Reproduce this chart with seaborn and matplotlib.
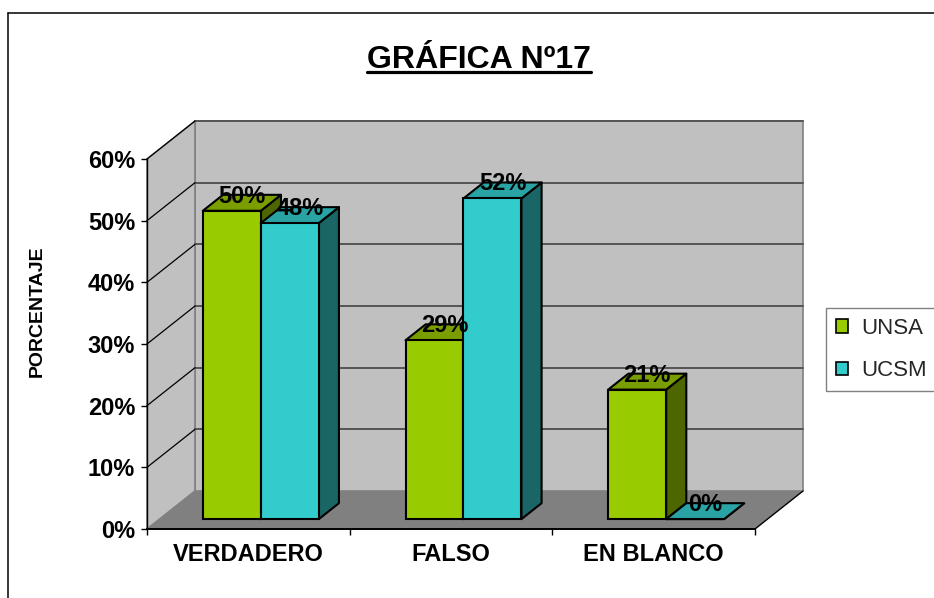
import matplotlib
matplotlib.use("Agg")
import matplotlib.pyplot as plt
import pandas as pd
import seaborn as sns
from matplotlib.patches import Polygon, Patch, Rectangle
from matplotlib.lines import Line2D
from matplotlib.transforms import Affine2D

# ---- data -------------------------------------------------------------
categorias = ["VERDADERO", "FALSO", "EN BLANCO"]
series = ["UNSA", "UCSM"]
unsa = [50, 29, 21]
ucsm = [48, 52, 0]
yticks = [0, 10, 20, 30, 40, 50, 60]
ytick_labels = ["0%", "10%", "20%", "30%", "40%", "50%", "60%"]
titulo = "GRÁFICA Nº17"
eje_y = "PORCENTAJE"

# face colours of the 3-D columns: front, top, side
frente = ["#99cc00", "#33cccc"]
techo = ["#7a9e00", "#29a3a3"]
lado = ["#4d6600", "#1a6666"]

sns.set_theme(style="white")
plt.rcParams["font.family"] = ["Liberation Sans", "DejaVu Sans"]

df = pd.DataFrame({
    "categoria": categorias * 2,
    "universidad": [series[0]] * len(categorias) + [series[1]] * len(categorias),
    "porcentaje": unsa + ucsm,
})

# ---- figure & front plane of the box ------------------------------------
W, H = 934, 598
fig = plt.figure(figsize=(W / 100, H / 100), dpi=100)
left_px, right_px, bottom_px, top_px = 147, 755, 529, 159
ax = fig.add_axes([left_px / W, 1 - bottom_px / H,
                   (right_px - left_px) / W, (bottom_px - top_px) / H])
ax.patch.set_visible(False)

XL, XR = -0.5, len(categorias) - 0.5
YMAX = yticks[-1]
# depth of the box (pixels) converted into data units
DX = 48 / (right_px - left_px) * (XR - XL)
DY = 38 / (bottom_px - top_px) * YMAX
D0, D1 = 0.26, 0.68          # depth span occupied by the columns


def P(x, y, d):
    """Project a point of the 3-D box onto the axes' data plane."""
    return (x + d * DX, y + d * DY)


# ---- columns -------------------------------------------------------------
sns.barplot(data=df, x="categoria", y="porcentaje", hue="universidad",
            order=categorias, hue_order=series, palette=frente,
            saturation=1, width=0.572, edgecolor="black", linewidth=1.5,
            legend=False, ax=ax)
barras = [p for p in ax.patches if isinstance(p, Rectangle)]

# ---- walls and floor -----------------------------------------------------
ax.add_patch(Polygon([P(XL, 0, 1), P(XR, 0, 1), P(XR, YMAX, 1), P(XL, YMAX, 1)],
                     closed=True, fc="#c0c0c0", ec="#808080", lw=1.2,
                     clip_on=False, zorder=0.1))
ax.add_patch(Polygon([P(XL, 0, 0), P(XL, YMAX, 0), P(XL, YMAX, 1), P(XL, 0, 1)],
                     closed=True, fc="#c0c0c0", ec="#808080", lw=1.2,
                     clip_on=False, zorder=0.1))
ax.add_patch(Polygon([P(XL, 0, 0), P(XR, 0, 0), P(XR, 0, 1), P(XL, 0, 1)],
                     closed=True, fc="#808080", ec="none",
                     clip_on=False, zorder=0.2))
ax.add_line(Line2D(*zip(P(XR, 0, 0), P(XR, 0, 1)), color="black", lw=1,
                   clip_on=False, zorder=0.3))
for v in yticks[1:]:
    ax.add_line(Line2D(*zip(P(XL, v, 1), P(XR, v, 1)), color="#555555",
                       lw=1.4, clip_on=False, zorder=0.5))
    ax.add_line(Line2D(*zip(P(XL, v, 0), P(XL, v, 1)), color="black",
                       lw=0.9, clip_on=False, zorder=0.5))

shift = Affine2D().translate(D0 * DX, D0 * DY)
for p in barras:
    x0, w, h = p.get_x(), p.get_width(), p.get_height()
    cx = x0 + w / 2
    s = 0 if cx < round(cx) else 1
    base = 2 + s
    p.set_transform(shift + ax.transData)
    p.set_zorder(base + 0.5)
    p.set_clip_on(False)
    ax.add_patch(Polygon([P(x0 + w, 0, D0), P(x0 + w, h, D0),
                          P(x0 + w, h, D1), P(x0 + w, 0, D1)],
                         closed=True, fc=lado[s], ec="black", lw=1.5,
                         joinstyle="round", clip_on=False, zorder=base))
    ax.add_patch(Polygon([P(x0, h, D0), P(x0 + w, h, D0),
                          P(x0 + w, h, D1), P(x0, h, D1)],
                         closed=True, fc=techo[s], ec="black", lw=1.5,
                         joinstyle="round", clip_on=False, zorder=base))
    ax.text(*P(cx, h, (D0 + D1) / 2), f"{h:.0f}%", ha="center",
            va="baseline", fontsize=17, fontweight="bold", color="black",
            zorder=10)

# ---- axes ----------------------------------------------------------------
ax.set_xlim(XL, XR)
ax.set_ylim(0, YMAX)
ax.set_xlabel("")
ax.set_ylabel("")
ax.set_yticks(yticks)
ax.set_yticklabels(ytick_labels, fontsize=17, fontweight="bold")
ax.tick_params(axis="y", left=True, length=4.3, width=1, color="black",
               pad=4.3, direction="out", labelcolor="black")
ax.set_xticks([XL + i for i in range(len(categorias) + 1)])
ax.set_xticklabels([])
ax.set_xticks(range(len(categorias)), minor=True)
ax.set_xticklabels(categorias, minor=True, fontsize=17, fontweight="bold")
ax.tick_params(axis="x", which="major", bottom=True, length=4, width=1,
               color="black", direction="out")
ax.tick_params(axis="x", which="minor", bottom=True, length=0, pad=10,
               labelcolor="black")
for side in ("top", "right"):
    ax.spines[side].set_visible(False)
ax.spines["left"].set_color("black")
ax.spines["left"].set_linewidth(1)
ax.spines["bottom"].set_color("black")
ax.spines["bottom"].set_linewidth(1.4)
ax.grid(False)

# ---- legend --------------------------------------------------------------
handles = [Patch(facecolor=frente[i], edgecolor="black", linewidth=1.2,
                 label=series[i]) for i in range(len(series))]
leg = fig.legend(handles=handles, loc="upper left",
                 bbox_to_anchor=(826 / W, 1 - 308 / H),
                 bbox_transform=fig.transFigure, fontsize=16,
                 frameon=True, fancybox=False, framealpha=1,
                 edgecolor="#808080", borderpad=0.45, handlelength=0.55,
                 handleheight=0.55, handletextpad=0.6, labelspacing=0.95,
                 borderaxespad=0)
leg.get_frame().set_linewidth(1)

# ---- texts, frame --------------------------------------------------------
fig.text(37 / W, 1 - 311 / H, eje_y, rotation=90, ha="center", va="center",
         fontsize=14, fontweight="bold", color="black")
t = fig.text(479 / W, 1 - 68 / H, titulo, ha="center", va="baseline",
             fontsize=23, fontweight="bold", color="black")
fig.canvas.draw()
bb = t.get_window_extent()
y_ul = 1 - 72 / H
fig.add_artist(Line2D([bb.x0 / W, bb.x1 / W], [y_ul, y_ul],
                      transform=fig.transFigure, color="black", lw=2.3))
y_top = 1 - 12.5 / H
fig.add_artist(Line2D([8 / W, 1], [y_top, y_top], transform=fig.transFigure,
                      color="black", lw=1.1))
fig.add_artist(Line2D([8 / W, 8 / W], [0, y_top], transform=fig.transFigure,
                      color="black", lw=1.1))

fig.savefig("out.png", dpi=100)
